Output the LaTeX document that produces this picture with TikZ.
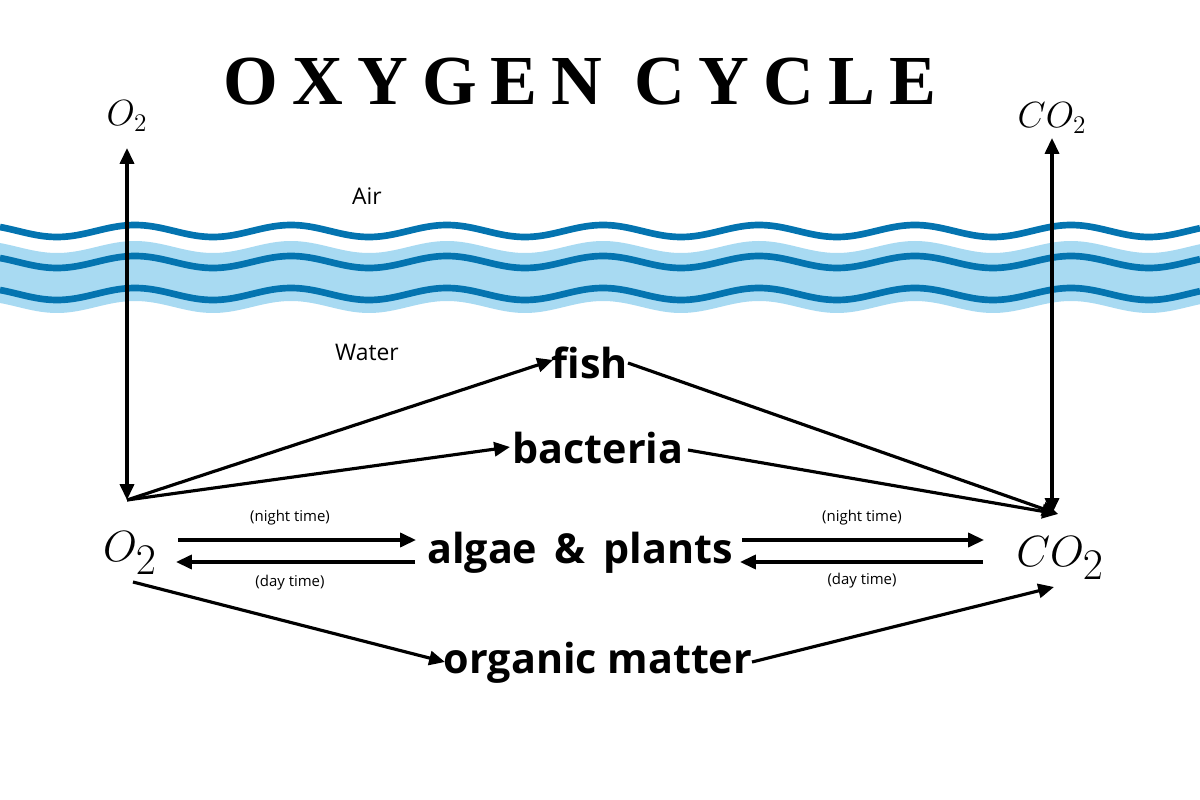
\documentclass[tikz,border=0pt]{standalone}
\usepackage{fontspec}
\setmainfont{Open Sans}
\newfontfamily\titlefont[LetterSpace=20]{Liberation Serif}
\usetikzlibrary{arrows.meta}
\definecolor{wdark}{HTML}{0474B0}
\definecolor{wlight}{HTML}{A8DAF2}
\begin{document}
\begin{tikzpicture}[x=0.02cm,y=-0.02cm,
  arr/.style={line width=1.8pt,-{Triangle[length=9pt,width=8pt]}},
  darr/.style={line width=1.8pt,{Triangle[length=9pt,width=8pt]}-{Triangle[length=9pt,width=8pt]}},
  big/.style={font=\fontsize{23.5}{26}\selectfont\bfseries},
  small/.style={font=\fontsize{8.5}{10}\selectfont},
  med/.style={font=\fontsize{13}{15}\selectfont}]
\useasboundingbox (0,0) rectangle (1200,800);
% water band
\fill[wlight] plot[domain=0:1200,samples=300,smooth] (\x,{247+6*sin(2.3077*(\x-18))}) --
  plot[domain=1200:0,samples=300,smooth] (\x,{307+6*sin(2.3077*(\x-18))}) -- cycle;
\foreach \yy in {231,262,294}
  \draw[wdark,line width=3.8pt] plot[domain=0:1200,samples=300,smooth] (\x,{\yy+6*sin(2.3077*(\x-18))});
\draw[white,line width=2.5pt] plot[domain=0:1200,samples=300,smooth] (\x,{240.5+6*sin(2.3077*(\x-18))});
% texts
\node (title) at (580,82) {\titlefont\bfseries\fontsize{40}{44}\selectfont OXYGEN CYCLE};
\node (o2t) at (127,116) {\fontsize{22}{24}\selectfont $O_2$};
\node (co2t) at (1052,118) {\fontsize{22}{24}\selectfont $CO_2$};
\node[med] (air) at (367,196) {Air};
\node[med] (water) at (367,352) {Water};
\node (o2) at (130,553) {\fontsize{54}{58}\selectfont $O_2$};
\node (co2) at (1060,558) {\fontsize{54}{58}\selectfont $CO_2$};
\node[big] (fish) at (590,363) {fish};
\node[big] (bact) at (598,448) {bacteria};
\node[big] (alg) at (580,553) {algae \,\&\, plants};
\node[big] (org) at (598,663) {organic matter};
\node[small] (n1) at (290,518) {(night time)};
\node[small] (d1) at (290,583) {(day time)};
\node[small] (n2) at (862,518) {(night time)};
\node[small] (d2) at (862,581) {(day time)};
% connectors
\coordinate (hubL) at (127,500);
\coordinate (hubR) at (1058,514);
\coordinate (topL) at (127,148);
\coordinate (topR) at (1052,138);
\draw[darr] (topL) -- (hubL);
\draw[darr] (topR) -- (1052,514);
\draw[arr] (hubL) -- (553,360);
\draw[arr] (hubL) -- (510,447);
\draw[arr] (628,363) -- (hubR);
\draw[arr] (688,450) -- (hubR);
\draw[arr] (178,540) -- (416,540);
\draw[arr] (415,562) -- (176,562);
\draw[arr] (742,540) -- (984,540);
\draw[arr] (983,562) -- (740,562);
\draw[arr] (133,582) -- (445,662);
\draw[arr] (752,662) -- (1054,587);
\end{tikzpicture}
\end{document}
